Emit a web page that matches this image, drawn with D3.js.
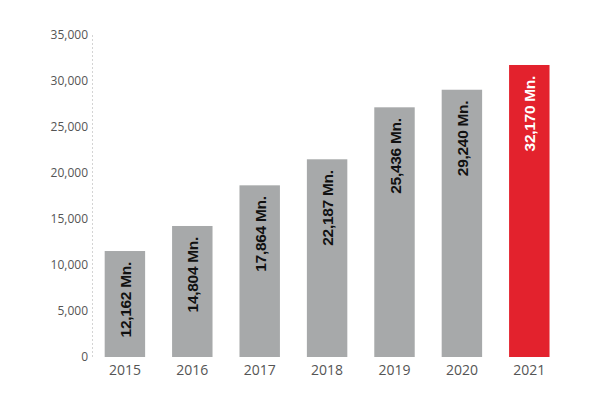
<!DOCTYPE html>
<html>
<head>
<meta charset="utf-8">
<script src="https://cdn.jsdelivr.net/npm/d3@7"></script>
<style>
  html, body { margin: 0; padding: 0; background: #fff; }
  svg { display: block; }
</style>
</head>
<body>
<svg id="chart" width="600" height="400"></svg>
<script>
const years = ["2015", "2016", "2017", "2018", "2019", "2020", "2021"];
const barValues = [11520, 14240, 18660, 21490, 27140, 29050, 31740];
const barLabels = ["12,162 Mn.", "14,804 Mn.", "17,864 Mn.", "22,187 Mn.", "25,436 Mn.", "29,240 Mn.", "32,170 Mn."];
const yTicks = [0, 5000, 10000, 15000, 20000, 25000, 30000, 35000];
const highlightYear = "2021";

const svg = d3.select("#chart");
const x = d3.scaleBand().domain(years).range([91.2, 563]).paddingInner(0.4).paddingOuter(0.2);
const y = d3.scaleLinear().domain([0, 35000]).range([357, 35]);

// dotted axis line
svg.append("line")
  .attr("x1", 92.5).attr("x2", 92.5)
  .attr("y1", y(35000)).attr("y2", y(0))
  .attr("stroke", "#d4d4d4").attr("stroke-width", 1)
  .attr("stroke-dasharray", "2,2");

// y tick labels
const yAxis = d3.axisLeft(y).tickValues(yTicks).tickSize(0).tickPadding(0)
  .tickFormat(d3.format(","));
const ya = svg.append("g").attr("transform", "translate(88,0)").call(yAxis);
ya.select(".domain").remove();
ya.selectAll("text")
  .attr("fill", "#555")
  .style("font-family", "'Open Sans', sans-serif")
  .style("font-size", "12px");

// x labels
const xAxis = d3.axisBottom(x).tickSize(0).tickPadding(0);
const xa = svg.append("g").attr("transform", "translate(0,365)").call(xAxis);
xa.select(".domain").remove();
xa.selectAll("text")
  .attr("fill", "#555")
  .attr("dy", "0.71em")
  .style("font-family", "'Open Sans', sans-serif")
  .style("font-size", "14px");

// bars
const data = years.map((yr, i) => ({ year: yr, value: barValues[i], label: barLabels[i] }));
svg.selectAll("rect.bar").data(data).enter().append("rect")
  .attr("class", "bar")
  .attr("x", d => x(d.year))
  .attr("width", x.bandwidth())
  .attr("y", d => y(d.value))
  .attr("height", d => y(0) - y(d.value))
  .attr("fill", d => d.year === highlightYear ? "#e3222d" : "#a7a9aa");

// labels in bars
svg.selectAll("text.lbl").data(data).enter().append("text")
  .attr("class", "lbl")
  .attr("transform", d => `translate(${x(d.year) + x.bandwidth() / 2 + 6},${y(d.value) + 11}) rotate(-90)`)
  .attr("text-anchor", "end")
  .attr("fill", d => d.year === highlightYear ? "#fff" : "#111")
  .style("font-family", "'Liberation Sans', Arial, sans-serif")
  .style("font-weight", "bold")
  .style("font-size", "15.5px")
  .style("letter-spacing", "-0.3px")
  .text(d => d.label);
</script>
</body>
</html>
